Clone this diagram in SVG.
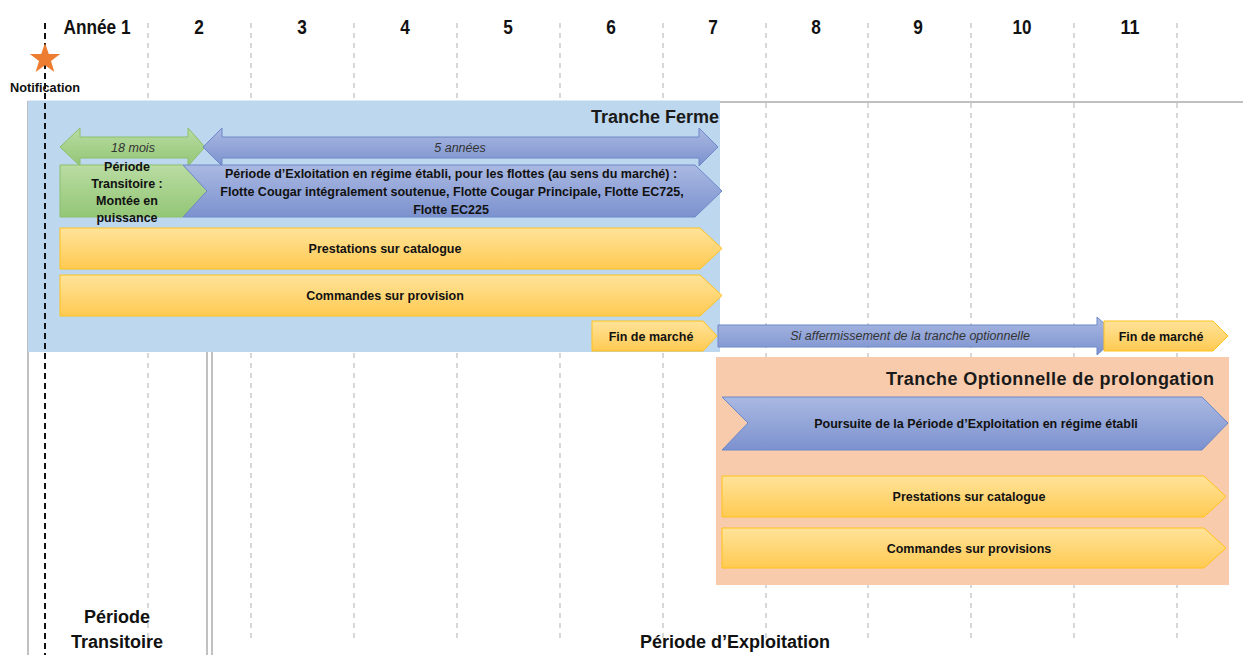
<svg xmlns="http://www.w3.org/2000/svg" width="1243" height="655" viewBox="0 0 1243 655">
<defs>
<linearGradient id="gBlue" x1="0" y1="0" x2="0" y2="1"><stop offset="0" stop-color="#aab9e2"/><stop offset="1" stop-color="#7c92cf"/></linearGradient>
<linearGradient id="gGreen" x1="0" y1="0" x2="0" y2="1"><stop offset="0" stop-color="#b9dca2"/><stop offset="1" stop-color="#93c676"/></linearGradient>
<linearGradient id="gYellow" x1="0" y1="0" x2="0" y2="1"><stop offset="0" stop-color="#ffe39a"/><stop offset="1" stop-color="#ffca52"/></linearGradient>
</defs>
<style>
.grid{stroke:#c3c3c3;stroke-width:1.3;stroke-dasharray:5 5;fill:none}
.frame{stroke:#c0c0c0;stroke-width:2;fill:none}
.yr{font-family:"Liberation Sans",Arial,sans-serif;font-weight:bold;font-size:21px;fill:#111;text-anchor:middle}
.t{font-family:"Liberation Sans",Arial,sans-serif;font-weight:bold;font-size:12.5px;fill:#111;text-anchor:middle}
.it{font-family:"Liberation Sans",Arial,sans-serif;font-style:italic;font-size:12.5px;fill:#333;text-anchor:middle}
.title{font-family:"Liberation Sans",Arial,sans-serif;font-weight:bold;font-size:18px;fill:#1a1a1a;text-anchor:end}
.big{font-family:"Liberation Sans",Arial,sans-serif;font-weight:bold;font-size:18px;fill:#111;text-anchor:middle}
.blue{fill:url(#gBlue);stroke:#6d88c8;stroke-width:1}
.green{fill:url(#gGreen);stroke:#8cbf6d;stroke-width:1}
.yellow{fill:url(#gYellow);stroke:#ffc21a;stroke-width:1}
</style>
<rect width="1243" height="655" fill="#ffffff"/>

<g id="grid">
<line class="grid" x1="148" y1="23" x2="148" y2="640"/>
<line class="grid" x1="251" y1="23" x2="251" y2="640"/>
<line class="grid" x1="354" y1="23" x2="354" y2="640"/>
<line class="grid" x1="457" y1="23" x2="457" y2="640"/>
<line class="grid" x1="560" y1="23" x2="560" y2="640"/>
<line class="grid" x1="663" y1="23" x2="663" y2="640"/>
<line class="grid" x1="766" y1="23" x2="766" y2="640"/>
<line class="grid" x1="868" y1="23" x2="868" y2="640"/>
<line class="grid" x1="971" y1="23" x2="971" y2="640"/>
<line class="grid" x1="1074" y1="23" x2="1074" y2="640"/>
<line class="grid" x1="1177" y1="23" x2="1177" y2="640"/>
</g>

<g id="years">
<text class="yr" x="97" y="34" textLength="67" lengthAdjust="spacingAndGlyphs">Année 1</text>
<text class="yr" x="199" y="34" textLength="9.6" lengthAdjust="spacingAndGlyphs">2</text>
<text class="yr" x="302" y="34" textLength="9.6" lengthAdjust="spacingAndGlyphs">3</text>
<text class="yr" x="405" y="34" textLength="9.6" lengthAdjust="spacingAndGlyphs">4</text>
<text class="yr" x="508" y="34" textLength="9.6" lengthAdjust="spacingAndGlyphs">5</text>
<text class="yr" x="611" y="34" textLength="9.6" lengthAdjust="spacingAndGlyphs">6</text>
<text class="yr" x="713" y="34" textLength="9.6" lengthAdjust="spacingAndGlyphs">7</text>
<text class="yr" x="816" y="34" textLength="9.6" lengthAdjust="spacingAndGlyphs">8</text>
<text class="yr" x="918" y="34" textLength="9.6" lengthAdjust="spacingAndGlyphs">9</text>
<text class="yr" x="1022" y="34" textLength="19" lengthAdjust="spacingAndGlyphs">10</text>
<text class="yr" x="1130" y="34" textLength="19" lengthAdjust="spacingAndGlyphs">11</text>
</g>

<g id="frames">
<rect class="frame" x="28" y="102" width="179" height="580"/>
<rect class="frame" x="212" y="102" width="1060" height="580"/>
</g>

<g id="tranche-ferme">
<rect x="28" y="100.5" width="692" height="251.5" fill="#bdd7ee"/>
<text class="title" x="719" y="123">Tranche Ferme</text>
</g>

<g id="tranche-optionnelle">
<rect x="716" y="357" width="513" height="228" fill="#f8cbad"/>
<text class="title" x="1214" y="385" textLength="328" lengthAdjust="spacing">Tranche Optionnelle de prolongation</text>
</g>

<g id="connectors">
<g id="duree-18-mois">
<polygon class="green" points="60,147 80,128 80,137 188,137 188,128 205,147 188,166 188,158 80,158 80,166"/>
<text class="it" x="133" y="152">18 mois</text>
</g>
<g id="duree-5-annees">
<polygon class="blue" points="203,147 222,128 222,137 699,137 699,128 718,147 699,166 699,158 222,158 222,166"/>
<text class="it" x="460" y="152">5 années</text>
</g>
<g id="affermissement">
<polygon class="blue" points="718,325 1097,325 1097,317 1118,336 1097,355 1097,347 718,347"/>
<text class="it" x="910" y="340">Si affermissement de la tranche optionnelle</text>
</g>
</g>

<g id="periode-transitoire-box">
<polygon class="green" points="60,165 183,165 207,191 183,217 60,217"/>
<text class="t" x="127" y="171">Période</text>
<text class="t" x="127" y="188">Transitoire :</text>
<text class="t" x="127" y="205">Montée en</text>
<text class="t" x="127" y="222">puissance</text>
</g>

<g id="periode-exploitation-box">
<polygon class="blue" points="183,165 695,165 722,191 695,217 183,217 207,191"/>
<text class="t" x="451" y="178">Période d’Exloitation en régime établi, pour les flottes (au sens du marché) :</text>
<text class="t" x="452" y="196">Flotte Cougar intégralement soutenue, Flotte Cougar Principale, Flotte EC725,</text>
<text class="t" x="451" y="214">Flotte EC225</text>
</g>

<g id="prestations-1">
<polygon class="yellow" points="60,228 700,228 722,248.5 700,269 60,269"/>
<text class="t" x="385" y="253">Prestations sur catalogue</text>
</g>

<g id="commandes-1">
<polygon class="yellow" points="60,275 700,275 722,295.5 700,316 60,316"/>
<text class="t" x="385" y="300">Commandes sur provision</text>
</g>

<g id="fin-marche-1">
<polygon class="yellow" points="592,321 703,321 717,336 703,351 592,351"/>
<text class="t" x="651" y="340.5">Fin de marché</text>
</g>

<g id="fin-marche-2">
<polygon class="yellow" points="1104,321 1213,321 1228,336 1213,351 1104,351"/>
<text class="t" x="1161" y="340.5">Fin de marché</text>
</g>

<g id="poursuite">
<polygon class="blue" points="722,397 1202,397 1228,423 1202,450 722,450 748,423"/>
<text class="t" x="976" y="427.5">Poursuite de la Période d’Exploitation en régime établi</text>
</g>

<g id="prestations-2">
<polygon class="yellow" points="722,476 1204,476 1226,496.5 1204,517 722,517"/>
<text class="t" x="969" y="501">Prestations sur catalogue</text>
</g>

<g id="commandes-2">
<polygon class="yellow" points="722,528 1204,528 1226,548 1204,568 722,568"/>
<text class="t" x="969" y="552.5">Commandes sur provisions</text>
</g>

<g id="notification">
<line x1="45" y1="23" x2="45" y2="655" stroke="#111" stroke-width="2" stroke-dasharray="6 4"/>
<polygon fill="#ed7d31" points="45,43 48.8,54.1 60.2,54.1 51,61 54.4,72 45,65.3 35.6,72 39,61 29.8,54.1 41.2,54.1"/>
<text class="t" x="45" y="92" font-size="11.5" textLength="70" lengthAdjust="spacingAndGlyphs">Notification</text>
</g>

<g id="labels-periodes">
<text class="big" x="117" y="623">Période</text>
<text class="big" x="117" y="648">Transitoire</text>
<text class="big" x="735" y="648">Période d’Exploitation</text>
</g>
</svg>
